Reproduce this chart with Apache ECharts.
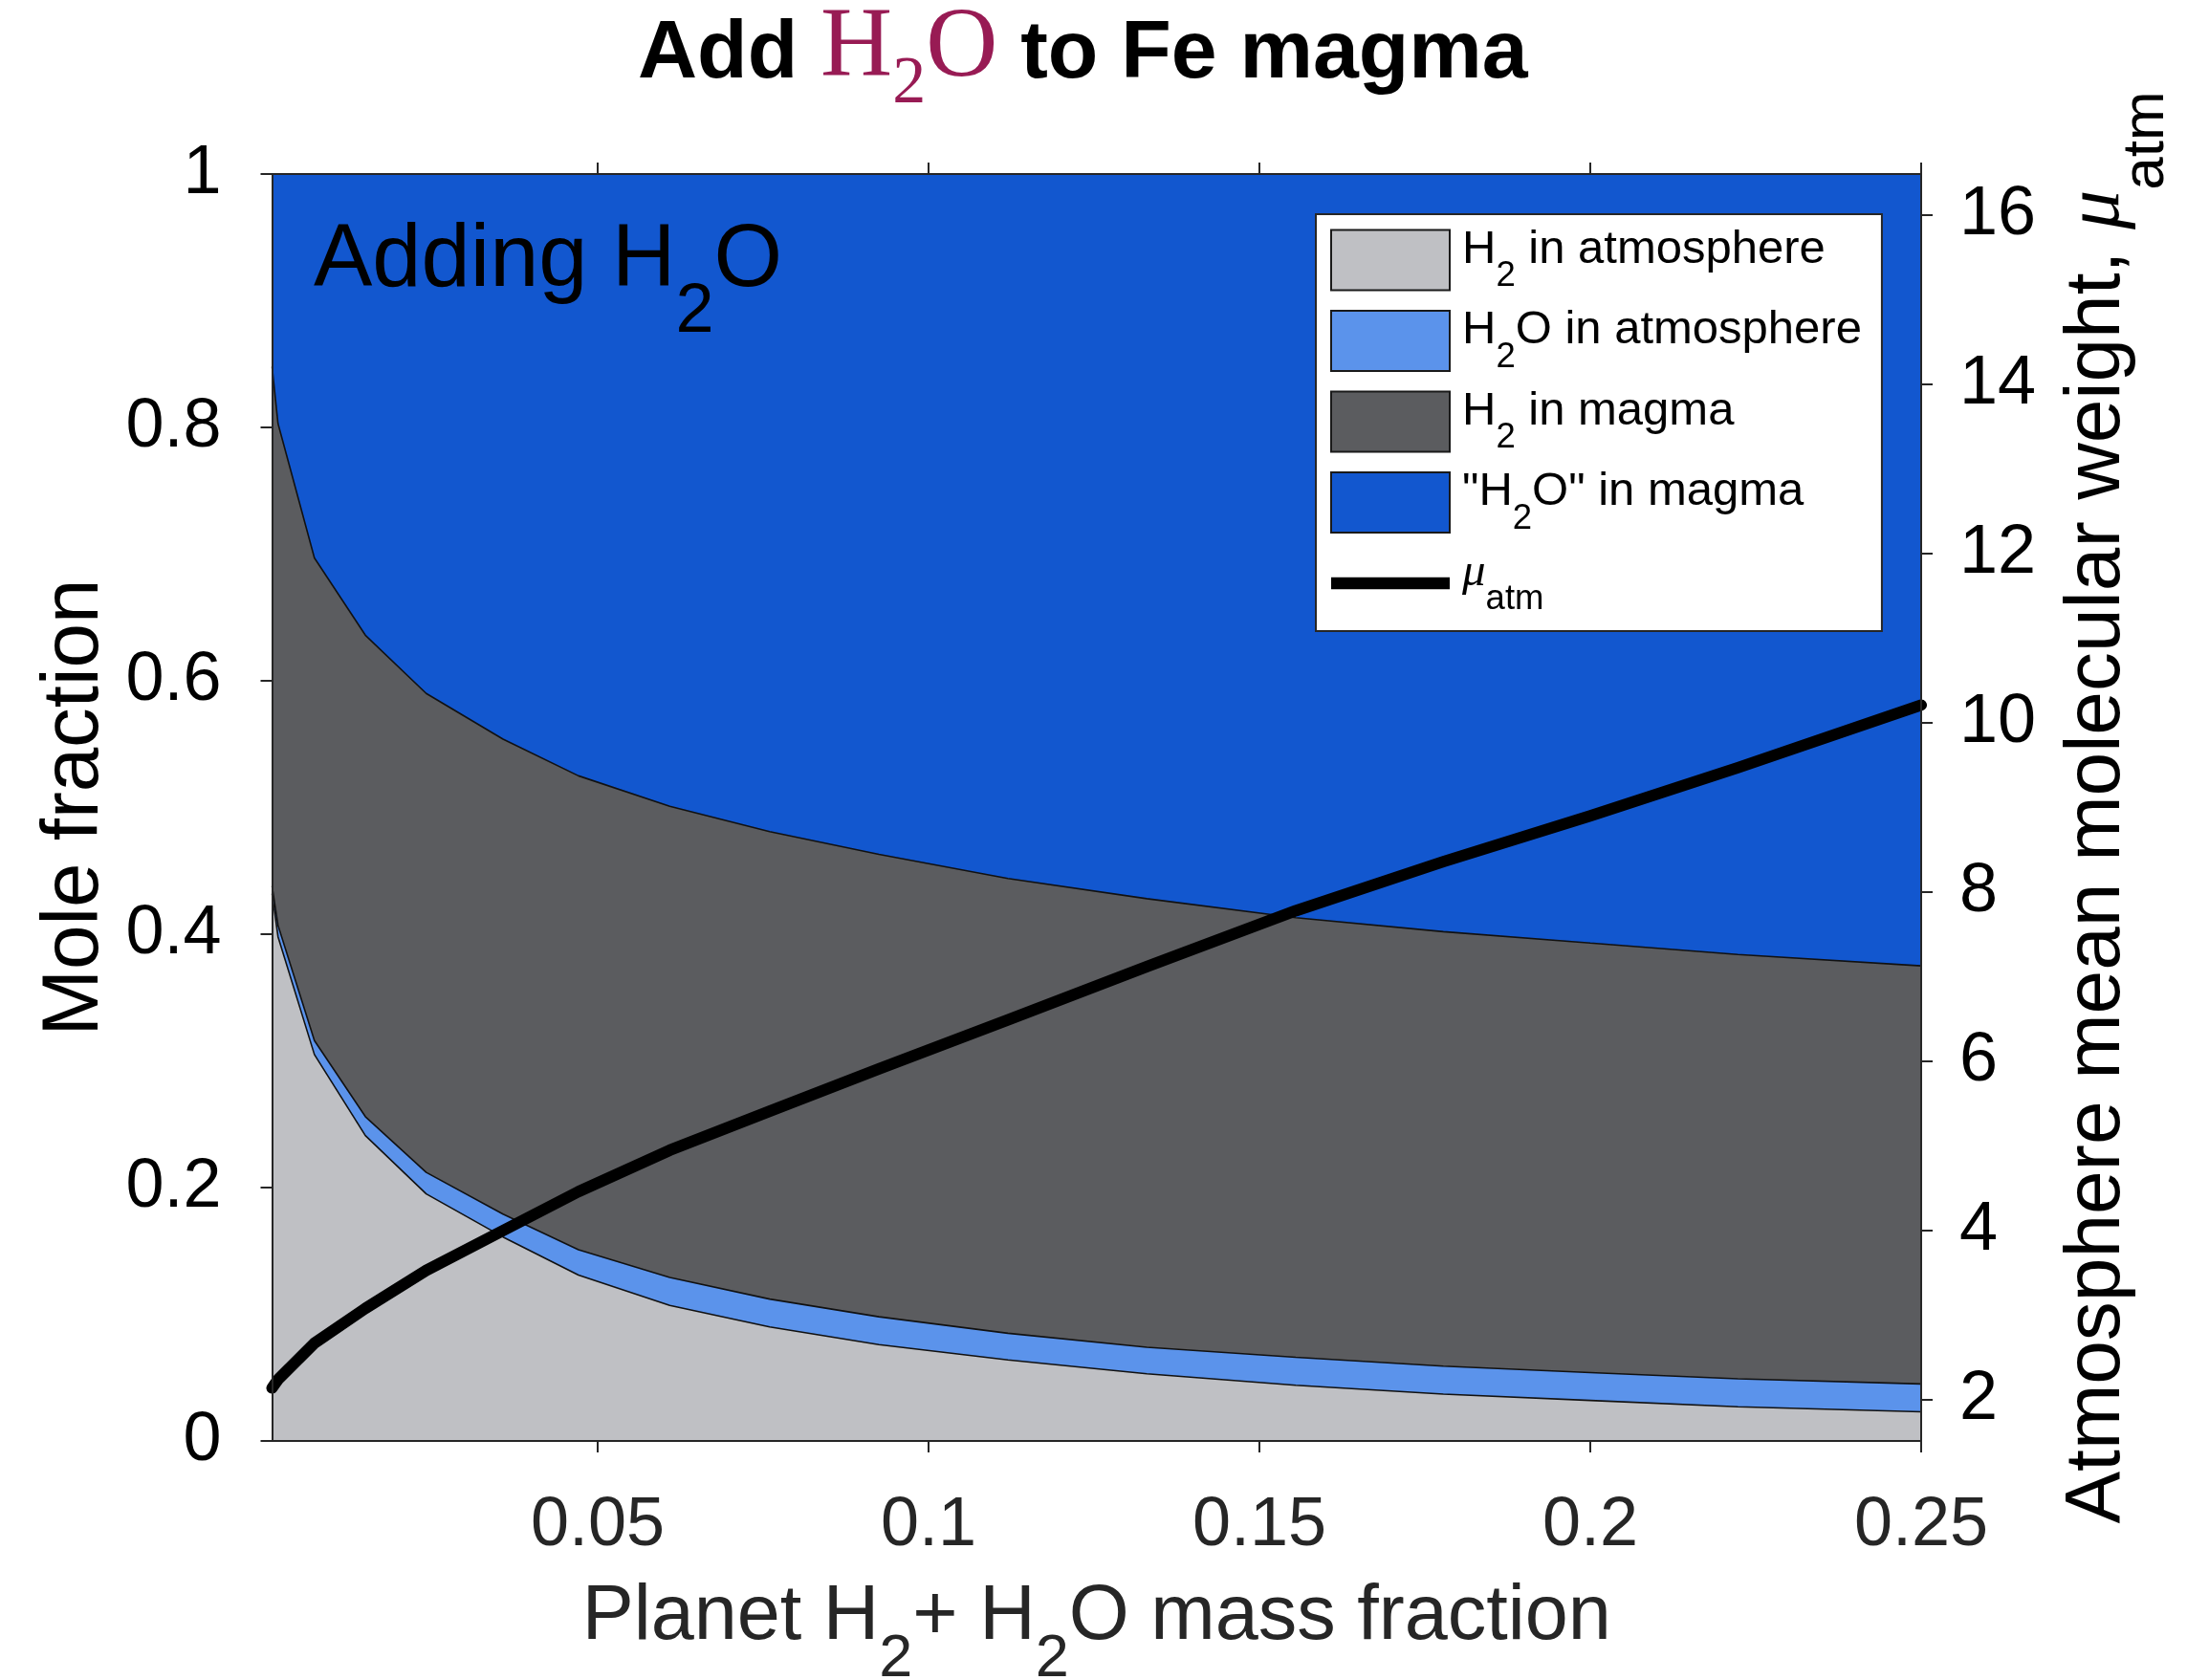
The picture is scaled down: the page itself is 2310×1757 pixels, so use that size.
<!DOCTYPE html>
<html>
<head>
<meta charset="utf-8">
<title>Add H2O to Fe magma</title>
<script src="https://cdn.jsdelivr.net/npm/echarts@6/dist/echarts.min.js"></script>
<style>
  html, body { margin: 0; padding: 0; background: #ffffff; }
  #chart { width: 2310px; height: 1757px; }
</style>
</head>
<body>
<div id="chart"></div>
<script>
// Planet H2 + H2O mass fraction (x)
const massFraction = [0.0008, 0.0017, 0.0072, 0.0149, 0.0241, 0.0357, 0.0471, 0.0609, 0.0760,
                      0.0925, 0.1120, 0.1330, 0.1555, 0.1778, 0.2000, 0.2223, 0.2500];
// Mole fractions of each reservoir (stacked, sum to 1)
const h2Atmosphere  = [0.432, 0.398, 0.305, 0.241, 0.195, 0.161, 0.131, 0.107, 0.090,
                       0.076, 0.064, 0.053, 0.044, 0.037, 0.032, 0.027, 0.023];
const h2oAtmosphere = [0.006, 0.009, 0.011, 0.015, 0.017, 0.018, 0.020, 0.022, 0.022,
                       0.022, 0.021, 0.021, 0.022, 0.022, 0.022, 0.022, 0.022];
const h2Magma       = [0.410, 0.396, 0.381, 0.380, 0.378, 0.375, 0.374, 0.372, 0.369,
                       0.365, 0.359, 0.354, 0.347, 0.343, 0.339, 0.335, 0.330];
const h2oMagma      = [0.152, 0.197, 0.303, 0.364, 0.410, 0.446, 0.475, 0.499, 0.519,
                       0.537, 0.556, 0.572, 0.587, 0.598, 0.607, 0.616, 0.625];
// Atmosphere mean molecular weight (right axis)
const muAtm = [2.14, 2.24, 2.67, 3.08, 3.53, 4.00, 4.46, 4.95, 5.41,
               5.91, 6.49, 7.12, 7.78, 8.36, 8.90, 9.47, 10.21];

// Tick values
const xTicks = [0.05, 0.1, 0.15, 0.2, 0.25];
const muTicks = [2, 4, 6, 8, 10, 12, 14, 16];

const SANS = '"Liberation Sans", Arial, Helvetica, sans-serif';
const SERIF = '"Liberation Serif", "Times New Roman", serif';

const seriesInfo = [
  { name: 'H2 in atmosphere',  values: h2Atmosphere,  color: '#BFC0C4', label: '{p| }{m|H}{s|2}{m| in atmosphere}' },
  { name: 'H2O in atmosphere', values: h2oAtmosphere, color: '#5B93EB', label: '{p| }{m|H}{s|2}{m|O in atmosphere}' },
  { name: 'H2 in magma',       values: h2Magma,       color: '#5B5C5F', label: '{p| }{m|H}{s|2}{m| in magma}' },
  { name: '"H2O" in magma',    values: h2oMagma,      color: '#1257CF', label: '{p| }{m|"H}{s|2}{m|O" in magma}' }
];
const muName = 'mu_atm';
const muLabel = '{p| }{g|\u03BC}{s|atm}';

// Rows are [mole fraction, mass fraction]; the first column is the one that gets stacked.
const stackRows = (ys) => massFraction.map((x, i) => [ys[i], x]);

const areaSeries = seriesInfo.map((s) => ({
  name: s.name,
  type: 'line',
  stack: 'reservoirs',
  data: stackRows(s.values),
  encode: { x: 1, y: 0 },
  symbol: 'none',
  showSymbol: false,
  silent: true,
  z: 2,
  itemStyle: { color: s.color },
  lineStyle: { color: '#111111', width: 1.6 },
  areaStyle: { color: s.color, opacity: 1 }
}));

const muSeries = {
  name: muName,
  type: 'line',
  yAxisIndex: 1,
  data: massFraction.map((x, i) => [x, muAtm[i]]),
  symbol: 'none',
  showSymbol: false,
  silent: true,
  z: 5,
  itemStyle: { color: '#000000' },
  lineStyle: { color: '#000000', width: 12, cap: 'round', join: 'round' }
};

const legendLabels = {};
seriesInfo.forEach((s) => { legendLabels[s.name] = s.label; });
legendLabels[muName] = muLabel;

const axisColor = '#262626';

const option = {
  animation: false,
  backgroundColor: '#ffffff',
  title: {
    text: '{a|Add }{h|H}{s|2}{h|O}{a| to Fe magma}',
    left: 667,
    top: 0,
    padding: 0,
    textStyle: {
      rich: {
        a: { fontFamily: SANS, fontWeight: 'bold', fontSize: 86, color: '#000000',
             verticalAlign: 'bottom', padding: [0, 0, 23, 0] },
        h: { fontFamily: SERIF, fontWeight: 'normal', fontSize: 104, color: '#981B54',
             verticalAlign: 'bottom', padding: [0, 0, 19.5, 0] },
        s: { fontFamily: SERIF, fontWeight: 'normal', fontSize: 70, color: '#981B54',
             verticalAlign: 'bottom' }
      }
    }
  },
  grid: {
    left: 284.5, right: 301, top: 182, bottom: 250,
    containLabel: false,
    outerBoundsMode: 'none'
  },
  legend: {
    orient: 'vertical',
    left: 1376,
    top: 224,
    itemWidth: 124,
    itemHeight: 63,
    itemGap: 13.5,
    padding: [12.5, 21, 14.5, 15],
    backgroundColor: '#ffffff',
    borderColor: axisColor,
    borderWidth: 2,
    selectedMode: false,
    formatter: (name) => legendLabels[name],
    textStyle: {
      color: '#000000',
      fontFamily: SANS,
      fontSize: 49,
      rich: {
        p: { fontSize: 10, width: 8 },
        m: { fontFamily: SANS, fontSize: 49, color: '#000000',
             verticalAlign: 'bottom', padding: [0, 0, 22, 0] },
        g: { fontFamily: SERIF, fontStyle: 'italic', fontSize: 49, color: '#000000',
             verticalAlign: 'bottom', padding: [0, 0, 22, 0] },
        s: { fontFamily: SANS, fontSize: 36.5, color: '#000000', verticalAlign: 'bottom' }
      }
    },
    data: seriesInfo.map((s) => ({
      name: s.name,
      icon: 'rect',
      itemStyle: { color: s.color, borderColor: '#1a1a1a', borderWidth: 2 }
    })).concat([{
      name: muName,
      icon: 'path://M0,0H10V1H0Z',
      itemStyle: { color: '#000000', borderWidth: 0 }
    }])
  },
  xAxis: [
    {
      type: 'value',
      position: 'bottom',
      min: massFraction[0],
      max: 0.25,
      z: 10,
      name: '{m|Planet H}{s|2}{m|+ H}{s|2}{m|O mass fraction}',
      nameLocation: 'middle',
      nameGap: 144,
      nameTextStyle: {
        rich: {
          m: { fontFamily: SANS, fontSize: 81, color: axisColor,
               verticalAlign: 'bottom', padding: [0, 0, 35.2, 0] },
          s: { fontFamily: SANS, fontSize: 63, color: axisColor, verticalAlign: 'bottom' }
        }
      },
      axisLine: { show: true, onZero: false, lineStyle: { color: axisColor, width: 2 } },
      axisTick: { show: true, inside: false, length: 12, customValues: xTicks,
                  lineStyle: { color: axisColor, width: 2 } },
      axisLabel: { show: true, customValues: xTicks, margin: 53, fontFamily: SANS,
                   fontSize: 72, color: axisColor, formatter: (v) => String(v) },
      splitLine: { show: false }
    },
    {
      type: 'value',
      position: 'top',
      min: massFraction[0],
      max: 0.25,
      z: 10,
      axisLine: { show: true, onZero: false, lineStyle: { color: axisColor, width: 2 } },
      axisTick: { show: true, inside: false, length: 12, customValues: xTicks,
                  lineStyle: { color: axisColor, width: 2 } },
      axisLabel: { show: false },
      splitLine: { show: false }
    }
  ],
  yAxis: [
    {
      type: 'value',
      position: 'left',
      min: 0,
      max: 1,
      interval: 0.2,
      z: 10,
      name: 'Mole fraction',
      nameLocation: 'middle',
      nameGap: 157,
      nameTextStyle: { fontFamily: SANS, fontSize: 83.5, color: '#000000' },
      axisLine: { show: true, onZero: false, lineStyle: { color: axisColor, width: 2 } },
      axisTick: { show: true, inside: false, length: 12, lineStyle: { color: axisColor, width: 2 } },
      axisLabel: { margin: 53, fontFamily: SANS, fontSize: 72, color: '#000000' },
      splitLine: { show: false }
    },
    {
      type: 'value',
      position: 'right',
      min: 1.514,
      max: 16.486,
      z: 10,
      name: '{m|Atmosphere mean molecular weight, }{g|\u03BC}{s|atm}',
      nameLocation: 'middle',
      nameGap: 143.6,
      nameTextStyle: {
        rich: {
          m: { fontFamily: SANS, fontSize: 82, color: '#000000',
               verticalAlign: 'bottom', padding: [0, 0, 41, 0] },
          g: { fontFamily: SERIF, fontStyle: 'italic', fontSize: 82, color: '#000000',
               verticalAlign: 'bottom', padding: [0, 0, 41, 0] },
          s: { fontFamily: SANS, fontSize: 62, color: '#000000', verticalAlign: 'bottom' }
        }
      },
      axisLine: { show: true, onZero: false, lineStyle: { color: axisColor, width: 2 } },
      axisTick: { show: true, inside: false, length: 12, customValues: muTicks,
                  lineStyle: { color: axisColor, width: 2 } },
      axisLabel: { show: true, customValues: muTicks, margin: 40, fontFamily: SANS,
                   fontSize: 72, color: '#000000' },
      splitLine: { show: false }
    }
  ],
  graphic: [
    {
      type: 'text',
      left: 328,
      top: 228,
      z: 100,
      silent: true,
      style: {
        text: '{m|Adding H}{s|2}{m|O}',
        rich: {
          m: { fontFamily: SANS, fontSize: 92, fill: '#000000',
               verticalAlign: 'bottom', padding: [0, 0, 43, 0] },
          s: { fontFamily: SANS, fontSize: 72, fill: '#000000', verticalAlign: 'bottom' }
        }
      }
    }
  ],
  series: areaSeries.concat([muSeries])
};

const chart = echarts.init(document.getElementById('chart'), null, { renderer: 'canvas' });
chart.setOption(option);
</script>
</body>
</html>
